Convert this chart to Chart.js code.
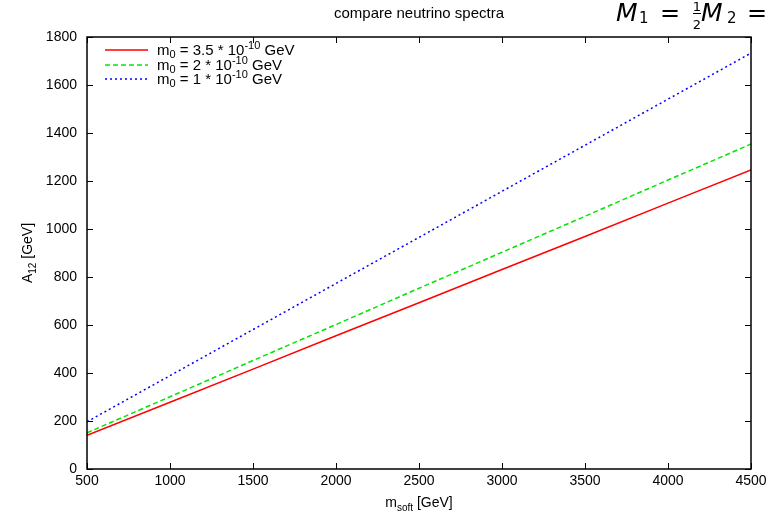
<!DOCTYPE html>
<html>
<head>
<meta charset="utf-8">
<script src="https://cdn.jsdelivr.net/npm/chart.js@4"></script>
<style>
  html, body { margin: 0; padding: 0; background: #fff; }
  #wrap { width: 773px; height: 517px; }
</style>
</head>
<body>
<div id="wrap"><canvas id="chart" width="773" height="517"></canvas></div>
<script>
// m_soft values (GeV)
const mSoft = [500, 1000, 1500, 2000, 2500, 3000, 3500, 4000, 4500];
// A_12 for each m_0
const a12_m35 = [140, 278, 416, 555, 693, 831, 969, 1108, 1246];
const a12_m2  = [151, 301, 452, 602, 753, 903, 1053, 1204, 1354];
const a12_m1  = [197, 389, 581, 773, 965, 1157, 1349, 1541, 1733];
const legendMantissa = ['3.5', '2', '1'];
const xTicks = [500, 1000, 1500, 2000, 2500, 3000, 3500, 4000, 4500];
const yTicks = [0, 200, 400, 600, 800, 1000, 1200, 1400, 1600, 1800];

const FONT = '"Liberation Sans", Arial, sans-serif';
const FS = 14;

function pts(ys) {
    return mSoft.map((x, i) => ({ x: x, y: ys[i] }));
}

// gnuplot-like frame, inward mirror ticks, legend, axis titles with sub/superscripts
const gnuplotLook = {
    id: 'gnuplotLook',
    afterDraw(chart) {
        const ctx = chart.ctx;
        const a = chart.chartArea;
        const xs = chart.scales.x, ys = chart.scales.y;
        const tl = 6;
        ctx.save();
        ctx.strokeStyle = '#000';
        ctx.lineWidth = 1;
        ctx.beginPath();
        xTicks.forEach(v => {
            const px = Math.round(xs.getPixelForValue(v)) + 0.5;
            ctx.moveTo(px, a.bottom); ctx.lineTo(px, a.bottom - tl);
            ctx.moveTo(px, a.top); ctx.lineTo(px, a.top + tl);
        });
        yTicks.forEach(v => {
            const py = Math.round(ys.getPixelForValue(v)) + 0.5;
            ctx.moveTo(a.left, py); ctx.lineTo(a.left + tl, py);
            ctx.moveTo(a.right, py); ctx.lineTo(a.right - tl, py);
        });
        ctx.stroke();
        ctx.lineWidth = 1.5;
        ctx.strokeRect(a.left, a.top, a.right - a.left, a.bottom - a.top);

        const big = FS + 'px ' + FONT;
        const small = '10px ' + FONT;
        const legBig = '15px ' + FONT;
        const legSmall = '11px ' + FONT;

        // legend
        const rows = [50, 65, 79];
        chart.data.datasets.forEach((ds, i) => {
            const y = rows[i];
            ctx.strokeStyle = ds.borderColor;
            ctx.lineWidth = ds.borderWidth;
            ctx.setLineDash(ds.borderDash || []);
            ctx.beginPath();
            ctx.moveTo(105, y); ctx.lineTo(148, y);
            ctx.stroke();
            ctx.setLineDash([]);
            ctx.fillStyle = '#000';
            ctx.textBaseline = 'alphabetic';
            ctx.textAlign = 'left';
            let x = 157;
            const base = y + 5;
            ctx.font = legBig;
            ctx.fillText('m', x, base); x += ctx.measureText('m').width;
            ctx.font = legSmall;
            ctx.fillText('0', x, base + 3); x += ctx.measureText('0').width;
            ctx.font = legBig;
            const mid = ' = ' + legendMantissa[i] + ' * 10';
            ctx.fillText(mid, x, base); x += ctx.measureText(mid).width;
            ctx.font = legSmall;
            ctx.fillText('-10', x, base - 6); x += ctx.measureText('-10').width;
            ctx.font = legBig;
            ctx.fillText(' GeV', x, base);
        });

        // x axis title
        ctx.fillStyle = '#000';
        ctx.font = big;
        const cx = (a.left + a.right) / 2;
        const w1 = ctx.measureText('m').width;
        ctx.font = small;
        const w2 = ctx.measureText('soft').width;
        ctx.font = big;
        const w3 = ctx.measureText(' [GeV]').width;
        let x = cx - (w1 + w2 + w3) / 2;
        const by = 507;
        ctx.fillText('m', x, by); x += w1;
        ctx.font = small;
        ctx.fillText('soft', x, by + 4); x += w2;
        ctx.font = big;
        ctx.fillText(' [GeV]', x, by);

        // y axis title (rotated)
        ctx.save();
        ctx.translate(32, (a.top + a.bottom) / 2);
        ctx.rotate(-Math.PI / 2);
        ctx.font = big;
        const v1 = ctx.measureText('A').width;
        ctx.font = small;
        const v2 = ctx.measureText('12').width;
        ctx.font = big;
        const v3 = ctx.measureText(' [GeV]').width;
        let yx = -(v1 + v2 + v3) / 2;
        ctx.fillText('A', yx, 0); yx += v1;
        ctx.font = small;
        ctx.fillText('12', yx, 4); yx += v2;
        ctx.font = big;
        ctx.fillText(' [GeV]', yx, 0);
        ctx.restore();

        // title
        ctx.font = '15px ' + FONT;
        ctx.textAlign = 'center';
        ctx.fillText('compare neutrino spectra', cx, 18);

        // math caption at top right (cut off at canvas edge)
        ctx.textAlign = 'left';
        const mf = '"DejaVu Sans", sans-serif';
        const mb = 21;
        ctx.font = 'italic 25px ' + mf;
        ctx.fillText('M', 616, mb);
        ctx.font = '15px ' + mf;
        ctx.fillText('1', 639, mb + 2);
        ctx.font = '24px ' + mf;
        ctx.fillText('=', 660, mb);
        ctx.font = '13px ' + mf;
        ctx.textAlign = 'center';
        ctx.fillText('1', 697, 11);
        ctx.fillText('2', 697, 29);
        ctx.fillRect(693, 13, 8, 1);
        ctx.textAlign = 'left';
        ctx.font = 'italic 25px ' + mf;
        ctx.fillText('M', 701, mb);
        ctx.font = '15px ' + mf;
        ctx.fillText('2', 727, mb + 2);
        ctx.font = '24px ' + mf;
        ctx.fillText('=', 747, mb);
        ctx.restore();
    }
};

const tickFont = { family: FONT, size: FS };

const ctx = document.getElementById('chart').getContext('2d');
const chart = new Chart(ctx, {
    type: 'line',
    data: {
        datasets: [{
            label: 'm0 = 3.5 * 10^-10 GeV',
            data: pts(a12_m35),
            borderColor: '#ff0000',
            borderWidth: 1.5,
            pointRadius: 0,
            fill: false
        }, {
            label: 'm0 = 2 * 10^-10 GeV',
            data: pts(a12_m2),
            borderColor: '#00e600',
            borderWidth: 1.5,
            borderDash: [5, 3],
            pointRadius: 0,
            fill: false
        }, {
            label: 'm0 = 1 * 10^-10 GeV',
            data: pts(a12_m1),
            borderColor: '#0000ff',
            borderWidth: 1.5,
            borderDash: [2, 3],
            pointRadius: 0,
            fill: false
        }]
    },
    options: {
        responsive: false,
        animation: false,
        layout: { padding: { top: 37, right: 22, left: 0, bottom: 0 } },
        plugins: {
            legend: { display: false },
            tooltip: { enabled: false }
        },
        scales: {
            x: {
                type: 'linear',
                min: 500,
                max: 4500,
                afterBuildTicks: s => { s.ticks = xTicks.map(v => ({ value: v })); },
                afterFit: s => { s.height = 48; },
                grid: { display: false, drawTicks: false },
                border: { display: false },
                ticks: { color: '#000', font: tickFont, padding: 4, maxRotation: 0, callback: v => String(v) }
            },
            y: {
                min: 0,
                max: 1800,
                afterBuildTicks: s => { s.ticks = yTicks.map(v => ({ value: v })); },
                afterFit: s => { s.width = 87; },
                grid: { display: false, drawTicks: false },
                border: { display: false },
                ticks: { color: '#000', font: tickFont, padding: 10, callback: v => String(v) }
            }
        }
    },
    plugins: [gnuplotLook]
});
</script>
</body>
</html>
